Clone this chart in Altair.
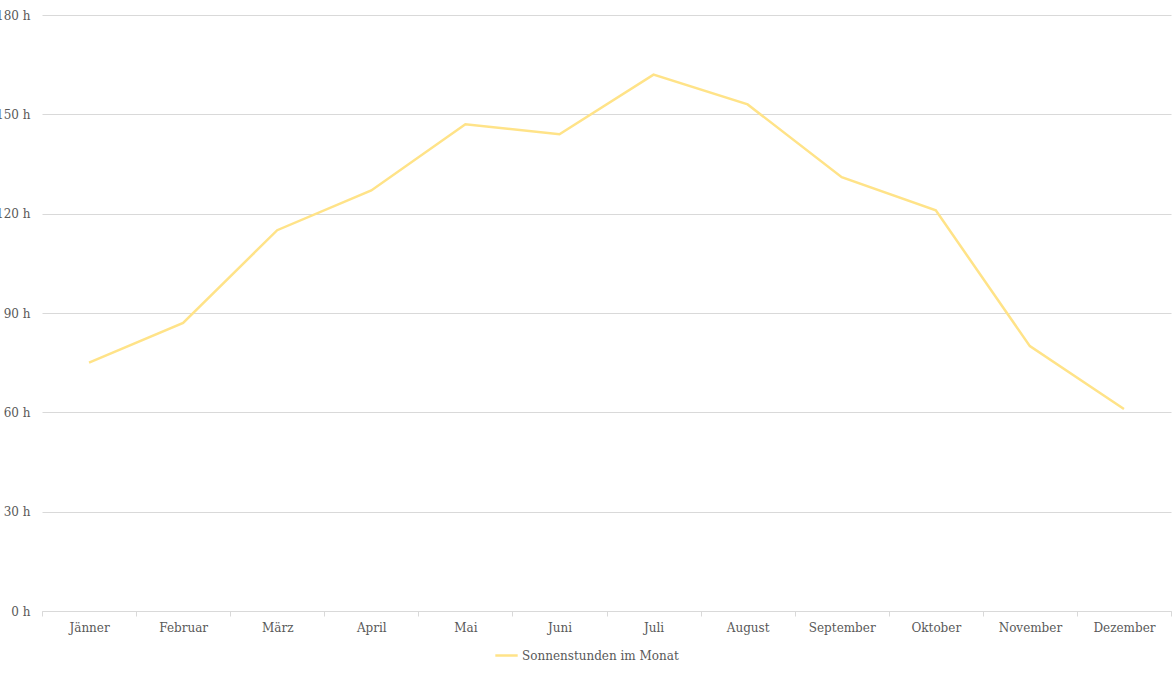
import altair as alt
import pandas as pd

months = ["Jänner", "Februar", "März", "April", "Mai", "Juni", "Juli",
          "August", "September", "Oktober", "November", "Dezember"]
hours = [75, 87, 115, 127, 147, 144, 162, 153, 131, 121, 80, 61]
series = "Sonnenstunden im Monat"

df = pd.DataFrame({"Monat": months, "Stunden": hours, "Serie": [series] * len(months)})

FONT = "DejaVu Serif"
TXT = "#595959"
GRID = "#d9d9d9"

chart = alt.Chart(df).mark_line(strokeWidth=2.5).encode(
    x=alt.X("Monat:N", sort=months, bandPosition=0.5,
            scale=alt.Scale(type="band", paddingInner=0, paddingOuter=0),
            axis=alt.Axis(title=None, labelAngle=0, tickBand="extent", grid=False,
                          domainColor=GRID, tickColor=GRID, tickSize=5,
                          labelColor=TXT, labelFont=FONT, labelFontSize=12,
                          labelPadding=6)),
    y=alt.Y("Stunden:Q", scale=alt.Scale(domain=[0, 180]),
            axis=alt.Axis(title=None, values=[0, 30, 60, 90, 120, 150, 180],
                          labelExpr="datum.value + ' h'", domain=False, ticks=False,
                          gridColor=GRID, labelColor=TXT, labelFont=FONT,
                          labelFontSize=12, labelPadding=12)),
    color=alt.Color("Serie:N", scale=alt.Scale(range=["#FFE388"]),
                    legend=alt.Legend(title=None, orient="none", legendX=452, legendY=628,
                                      symbolType="stroke", symbolStrokeWidth=2.5,
                                      symbolSize=500, labelFont=FONT, labelFontSize=12,
                                      labelColor=TXT, labelOffset=3)),
).properties(
    width=1129, height=596,
    background="white",
    autosize=alt.AutoSizeParams(type="none"),
    padding={"left": 42, "top": 15, "right": 3, "bottom": 64},
).configure_view(stroke=None, strokeWidth=0)

chart.save("out.html", embed_options={"renderer": "svg", "actions": False})
